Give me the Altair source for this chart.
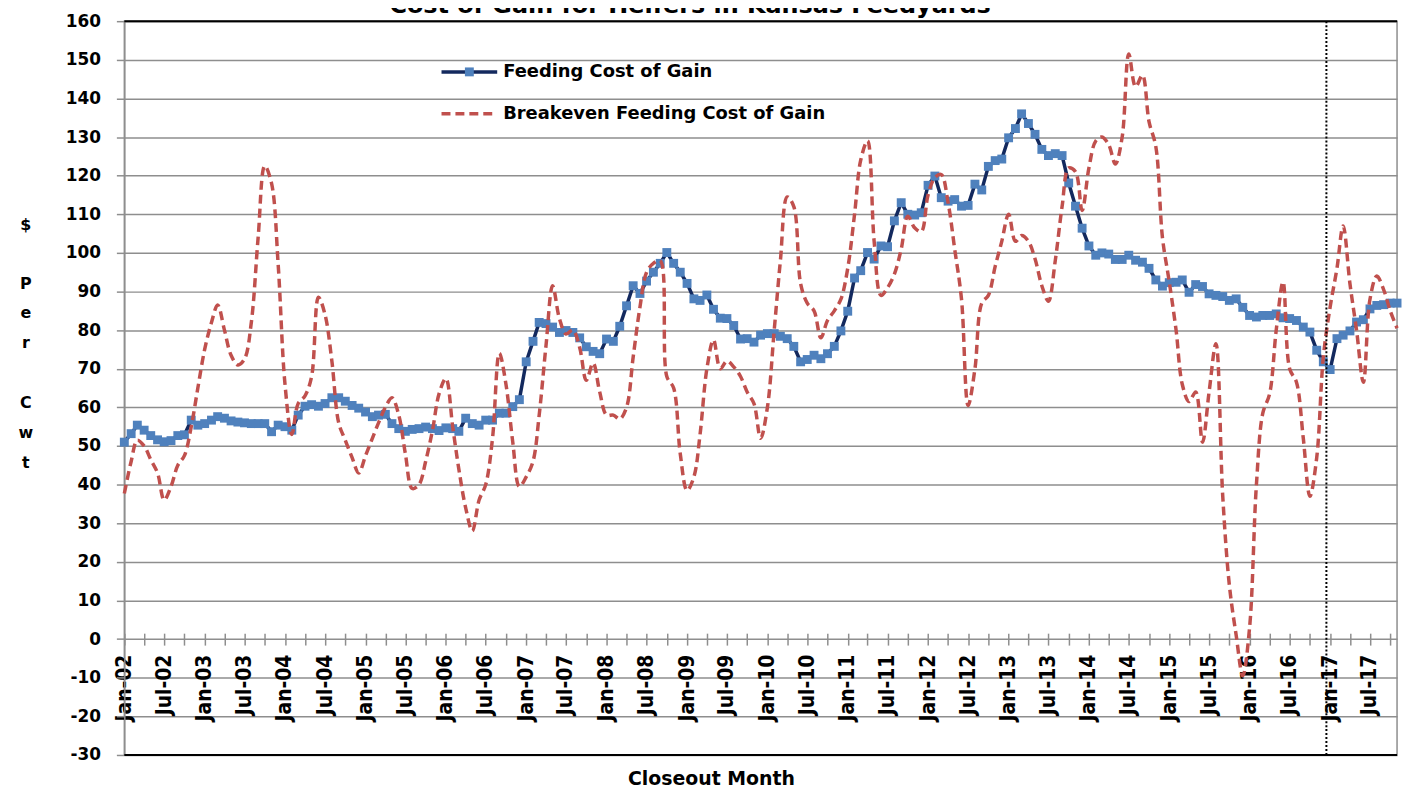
import altair as alt
import pandas as pd

# ---------------- data ----------------
title_text = "Cost of Gain for Heifers in Kansas Feedyards"
series_names = ["Feeding Cost of Gain", "Breakeven Feeding Cost of Gain"]
y_title_words = [["$"], ["P", "e", "r"], ["C", "w", "t"]]
x_title = "Closeout Month"
first_month = "2002-01-01"

# monthly, Jan-02 .. Nov-17
feeding = [
    51, 53.2, 55.4, 54.1, 52.7, 51.6, 51.1, 51.4, 52.7, 52.9, 56.7, 55.4,
    55.8, 56.7, 57.6, 57.2, 56.5, 56.2, 56, 55.8, 55.8, 55.8, 53.7, 55.4,
    55, 54.1, 58, 60.3, 60.7, 60.3, 61, 62.5, 62.5, 61.6, 60.5, 59.8,
    58.8, 57.6, 58, 58.2, 55.8, 54.5, 53.8, 54.3, 54.5, 54.9, 54.5, 54,
    54.7, 54.5, 53.8, 57.2, 55.8, 55.4, 56.7, 56.7, 58.5, 58.5, 60.2, 62,
    71.8, 77.1, 82, 81.7, 80.8, 79.4, 79.9, 79.4, 78, 75.7, 74.5, 73.9,
    77.7, 77.1, 81, 86.3, 91.5, 89.5, 92.7, 95, 97.3, 100.1, 97.3, 95,
    92.1, 88.1, 87.7, 89.1, 85.4, 83.1, 83, 81.2, 77.7, 77.8, 76.9, 78.7,
    79.1, 79.1, 78.4, 77.8, 75.8, 71.8, 72.4, 73.5, 72.6, 73.9, 75.8, 79.8,
    84.9, 93.5, 95.4, 100.1, 98.4, 101.8, 101.6, 108.3, 113, 110, 109.8, 110.4,
    117.5, 119.9, 114.3, 113.4, 113.8, 112.1, 112.3, 117.8, 116.3, 122.4, 123.9, 124.3,
    129.8, 132.2, 136, 133.5, 130.7, 126.8, 125.2, 125.7, 125.2, 118.1, 112.1, 106.4,
    101.8, 99.4, 100, 99.7, 98.3, 98.3, 99.4, 98.1, 97.6, 96, 93, 91.4,
    92.3, 92.4, 93, 89.8, 91.8, 91.3, 89.4, 89, 88.7, 87.7, 88.1, 85.9,
    83.8, 83.4, 83.8, 83.8, 84.2, 83.2, 83, 82.5, 80.8, 79.5, 74.8, 71.8,
    69.8, 77.8, 78.7, 79.8, 82.1, 82.7, 85.5, 86.4, 86.6, 87, 87,
]

breakeven = [
    37.7, 46, 51.5, 50, 46.5, 43, 36, 39.5, 45, 47.5, 55, 65,
    75, 82, 86.5, 80, 73.5, 71, 72.5, 82, 104, 122.5, 118, 97,
    66, 53, 61, 63, 68, 88.5, 84, 72, 56, 51.5, 47, 43,
    47.5, 52, 56, 60, 62.5, 58, 48, 39, 40, 46, 54, 63.5,
    67.5, 55, 44, 34, 28, 36, 40, 52, 74, 66, 51, 39.5,
    42, 46, 58, 76, 91.5, 83, 79, 80, 75.5, 67, 71.5, 64,
    58, 58, 57, 60, 73, 86, 95, 97.3, 98, 68, 65, 48,
    38.5, 42, 53, 70, 77.5, 70, 72, 70.5, 68, 64, 61, 52,
    60, 80, 98, 114.5, 112, 92, 87, 85, 78, 82.5, 85, 88,
    96, 110, 124, 129, 103, 89, 91, 94.5, 101, 109.5, 106.5, 105.5,
    115, 119.5, 120.3, 113, 101, 88, 60.5, 70, 87, 89, 96.5, 103,
    110, 103, 104.5, 103, 98.5, 91.5, 87.5, 98, 112, 122, 121, 111,
    122, 129, 130, 128, 123, 130, 151.5, 143, 146, 134, 127.5, 104,
    92.5, 80, 66, 61.5, 64, 51, 64, 76.5, 37, 14, 1, -9.5,
    3, 40, 58.5, 63.5, 80, 92.5, 70, 66.5, 52, 37, 47, 73,
    86, 96, 107, 92, 80, 66.5, 88, 94, 90.5, 85, 80.5,
]

months = pd.date_range(first_month, periods=len(feeding), freq="MS")
df = pd.DataFrame({"month": months, "feeding": feeding, "breakeven": breakeven})

# ---------------- styling ----------------
NAVY = "#13295e"
BLUE = "#4f81bd"
RED = "#c0504d"
GRID = "#8e8e8e"
FONT = "DejaVu Sans"
NARROW = "Liberation Sans Narrow, DejaVu Sans Condensed, sans-serif"

x_scale = alt.Scale(
    domain=[alt.DateTime(year=2002, month=1, date=1), alt.DateTime(year=2017, month=11, date=1)],
    nice=False,
)
y_scale = alt.Scale(domain=[-30, 160], nice=False, zero=False)

x_axis = alt.Axis(
    tickCount={"interval": "month", "step": 3},
    labelExpr="month(datum.value) % 6 === 0 ? timeFormat(datum.value, '%b-%y') : ''",
    labelAngle=270,
    labelFont=NARROW,
    labelFontSize=21,
    labelFontWeight="bold",
    labelColor="#000000",
    labelOverlap=False,
    labelFlush=False,
    labelBound=False,
    labelPadding=9,
    tickSize=12,
    tickColor=GRID,
    tickWidth=1.5,
    domain=False,
    grid=False,
    offset=-122.5,
    title=x_title,
    titleFont=FONT,
    titleFontSize=19,
    titleFontWeight="bold",
    titleColor="#000000",
    titleX=590,
    titleY=146,
    titleAlign="center",
    titleBaseline="middle",
)

y_axis = alt.Axis(
    values=list(range(-30, 161, 10)),
    labelExpr="'' + datum.value",
    domainColor=GRID,
    domainWidth=1.5,
    tickColor=GRID,
    tickWidth=1.5,
    tickSize=8,
    labelFont=FONT,
    labelFontSize=17,
    labelFontWeight="bold",
    labelColor="#000000",
    labelPadding=16,
    labelOverlap=False,
    labelFlush=False,
    gridColor=GRID,
    gridWidth=1.5,
    title=None,
)

x_enc = alt.X("month:T", scale=x_scale, axis=x_axis)

def y_enc(field):
    return alt.Y(f"{field}:Q", scale=y_scale, axis=y_axis)

base = alt.Chart(df)

blue_line = base.mark_line(color=NAVY, strokeWidth=3.5).encode(x=x_enc, y=y_enc("feeding"))
blue_pts = base.mark_square(size=80, color=BLUE, opacity=1).encode(x=x_enc, y=y_enc("feeding"))
red_line = base.mark_line(
    color=RED, strokeWidth=3.5, strokeDash=[9, 5], interpolate="catmull-rom"
).encode(x=x_enc, y=y_enc("breakeven"))

frame = alt.Chart(pd.DataFrame({"v": [160, -30]})).mark_rule(color="#000000", strokeWidth=2).encode(
    y=alt.Y("v:Q", scale=y_scale, axis=y_axis)
)

divider = alt.Chart(alt.Data(values=[{}])).mark_rule(
    color="#000000", strokeWidth=2, strokeDash=[2, 2]
).encode(x=alt.X(datum=alt.DateTime(year=2016, month=12, date=15), type="temporal", scale=x_scale, axis=x_axis))

one = alt.Data(values=[{}])
leg_blue_line = alt.Chart(one).mark_rule(color=NAVY, strokeWidth=3.5).encode(
    x=alt.value(319), x2=alt.value(375), y=alt.value(51)
)
leg_blue_pt = alt.Chart(one).mark_square(size=80, color=BLUE, opacity=1).encode(
    x=alt.value(347), y=alt.value(51)
)
leg_blue_txt = alt.Chart(one).mark_text(
    text=series_names[0], font=FONT, fontSize=18, fontWeight="bold", align="left", baseline="middle", color="#000000"
).encode(x=alt.value(381), y=alt.value(51))
leg_red_line = alt.Chart(one).mark_rule(color=RED, strokeWidth=3.5, strokeDash=[9, 5]).encode(
    x=alt.value(319), x2=alt.value(375), y=alt.value(93)
)
leg_red_txt = alt.Chart(one).mark_text(
    text=series_names[1], font=FONT, fontSize=18, fontWeight="bold", align="left", baseline="middle", color="#000000"
).encode(x=alt.value(381), y=alt.value(93))

# vertical y-axis title "$ / Per / Cwt"
y_title_marks = [
    alt.Chart(one).mark_text(
        text=words if len(words) > 1 else words[0], font=FONT, fontSize=16, fontWeight="bold",
        align="center", baseline="middle", lineHeight=30, color="#000000",
    ).encode(x=alt.value(-99), y=alt.value(yc))
    for words, yc in zip(y_title_words, [205, 264, 384])
]

title_mark = alt.Chart(one).mark_text(
    text=title_text, font=FONT, fontSize=24, fontWeight="bold", align="center", baseline="alphabetic", color="#000000"
).encode(x=alt.value(569), y=alt.value(-8))

chart = alt.layer(
    frame, blue_line, blue_pts, red_line, divider,
    leg_blue_line, leg_blue_pt, leg_blue_txt, leg_red_line, leg_red_txt,
    *y_title_marks, title_mark,
).properties(
    width=1280,
    height=738,
    autosize="none",
    padding={"left": 117, "top": 11, "right": 8, "bottom": 38},
    background="#ffffff",
).configure_view(stroke=GRID, strokeWidth=1.5)

chart.save("out.html", embed_options={"renderer": "svg", "actions": False})
